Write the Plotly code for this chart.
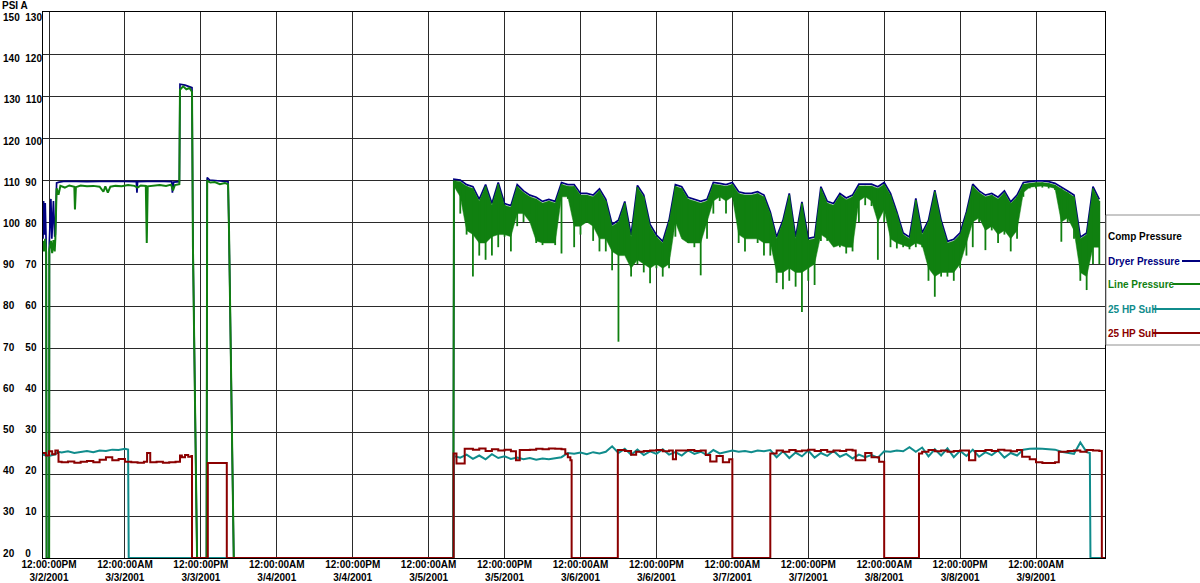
import pandas as pd
import plotly.graph_objects as go

START = pd.Timestamp("2001-03-02 12:00:00")   # hours below are counted from here

# ---------------- axis labels ----------------
tick_hours = [0, 12, 24, 36, 48, 60, 72, 84, 96, 108, 120, 132, 144, 156]
tick_text = ["12:00:00PM<br>3/2/2001", "12:00:00AM<br>3/3/2001", "12:00:00PM<br>3/3/2001",
             "12:00:00AM<br>3/4/2001", "12:00:00PM<br>3/4/2001", "12:00:00AM<br>3/5/2001",
             "12:00:00PM<br>3/5/2001", "12:00:00AM<br>3/6/2001", "12:00:00PM<br>3/6/2001",
             "12:00:00AM<br>3/7/2001", "12:00:00PM<br>3/7/2001", "12:00:00AM<br>3/8/2001",
             "12:00:00PM<br>3/8/2001", "12:00:00AM<br>3/9/2001"]
y_grid = [0, 10, 20, 30, 40, 50, 60, 70, 80, 90, 100, 110, 120, 130]
y_left_labels = ["20", "30", "40", "50", "60", "70", "80", "90", "100", "110", "120", "130", "140", "150"]
y_right_labels = ["0", "10", "20", "30", "40", "50", "60", "70", "80", "90", "100", "110", "120", "130"]

# ---------------- Line Pressure (green) ----------------
line_left_h = [-0.95, -0.8, -0.6, -0.45, -0.38, 0.02, 0.05, 0.3, 0.5, 0.7, 0.9, 1.0, 1.2, 1.5, 1.8,
               2.5, 3.2, 4.0, 4.1, 4.25, 5.0, 6.0, 7.0, 8.0, 8.6, 8.9, 9.3, 9.7, 10.5, 11.5, 12.5,
               13.5, 14.0, 14.5, 15.3, 15.45, 15.6, 16.5, 17.5, 18.5, 19.3, 19.6, 19.9, 20.6,
               20.7, 21.2, 21.7, 22.2, 22.6, 22.75, 23.4, 24.9, 25.0, 25.5, 26.2, 27.0, 27.8,
               28.3, 28.45, 29.2, 63.9]
line_left_v = [75.5, 73.0, 76.0, 72.8, 0, 0, 73.5, 75.5, 72.6, 75.7, 73.0, 76.0, 88.0, 86.5, 88.6,
               88.2, 88.7, 88.4, 83.0, 88.3, 88.7, 88.5, 88.6, 88.4, 87.2, 88.5, 87.0, 88.4, 88.6,
               88.5, 88.8, 88.6, 88.2, 88.7, 88.6, 75.0, 88.5, 88.7, 88.8, 88.6, 88.9, 87.5, 88.8,
               89.0, 111.5, 112.3, 111.6, 111.9, 111.0, 74.0, 0, 0, 89.8, 89.4, 89.5, 89.0, 89.3,
               89.0, 78.0, 0, 0]
env_start = 64   # hourly readings from 3/5 4AM onwards
# hourly maximum, lower edge of the dense band, and lowest spike
line_hi = [89.8, 89.6, 88.5, 88.0, 85.0, 88.5, 84.0, 89.0, 84.0, 83.5,
           88.5, 87.0, 86.0, 85.5, 84.5, 85.0, 84.5, 89.0, 88.5, 88.5,
           86.4, 86.4, 86.0, 87.5, 85.0, 79.0, 80.0, 84.5, 76.5, 88.3,
           86.0, 79.0, 76.5, 75.0, 80.0, 88.5, 88.0, 85.5, 85.0, 84.5,
           85.0, 89.0, 88.8, 88.5, 89.0, 86.8, 86.4, 86.4, 86.8, 86.0,
           82.0, 76.0, 80.0, 86.4, 76.0, 84.4, 75.7, 76.0, 88.0, 84.5,
           84.0, 86.4, 85.3, 86.0, 88.6, 88.6, 88.6, 88.0, 89.0, 86.4,
           82.0, 77.0, 76.0, 85.2, 77.0, 80.0, 87.2, 80.0, 75.0, 75.5,
           77.0, 82.0, 88.6, 87.0, 86.0, 86.4, 85.5, 87.0, 84.4, 86.0,
           89.0, 89.2, 89.4, 89.4, 89.2, 88.8, 88.0, 87.0, 86.0, 76.0,
           77.0, 88.0, 85.0]
line_body = [88.5, 86.0, 78.0, 77.0, 75.0, 75.0, 76.5, 77.0, 77.0, 76.5,
             82.0, 82.0, 80.0, 75.5, 75.0, 75.0, 75.0, 86.0, 86.0, 79.0,
             79.0, 80.0, 79.0, 76.0, 76.0, 73.0, 72.0, 72.0, 69.0, 71.0,
             70.0, 69.0, 70.0, 69.0, 70.0, 80.0, 76.0, 75.0, 75.0, 75.0,
             80.0, 85.0, 86.0, 85.0, 86.0, 77.0, 76.0, 76.0, 76.0, 75.0,
             75.0, 68.0, 68.0, 69.0, 68.0, 68.0, 69.0, 70.0, 77.0, 76.0,
             74.0, 74.5, 74.0, 74.0, 85.0, 86.0, 85.0, 80.0, 83.0, 76.0,
             75.0, 74.5, 74.0, 75.0, 74.5, 69.0, 67.0, 68.0, 68.0, 68.0,
             70.0, 75.0, 80.0, 81.0, 78.0, 79.0, 77.0, 78.0, 76.0, 78.0,
             87.0, 88.3, 88.5, 88.6, 88.4, 88.0, 80.0, 81.0, 78.0, 68.0,
             67.0, 74.0, 74.0]
line_lo = [88.6, 82.0, 77.0, 67.0, 72.0, 71.0, 72.0, 74.0, 76.5, 73.0,
           79.0, 80.0, 82.0, 75.0, 74.5, 75.0, 74.5, 72.5, 85.5, 74.0,
           77.0, 80.0, 75.5, 73.0, 73.0, 68.5, 51.5, 73.0, 67.0, 70.0,
           68.0, 65.4, 69.0, 67.0, 69.0, 76.5, 76.5, 75.0, 74.0, 67.3,
           76.0, 82.0, 85.0, 82.0, 86.0, 75.0, 73.0, 76.5, 75.0, 72.0,
           72.0, 65.5, 64.0, 66.0, 64.6, 58.6, 66.0, 65.0, 75.5, 75.5,
           75.0, 74.0, 72.5, 73.0, 80.0, 84.0, 83.8, 71.0, 80.0, 74.0,
           73.7, 74.0, 73.5, 74.0, 74.0, 66.0, 62.2, 67.0, 67.0, 66.0,
           69.0, 72.0, 74.0, 80.0, 73.3, 78.0, 75.0, 77.0, 73.0, 76.0,
           86.0, 88.0, 88.0, 88.2, 88.0, 87.6, 75.3, 80.0, 76.0, 66.0,
           63.8, 70.0, 70.0]

# ---------------- Dryer Pressure (navy) ----------------
dryer_left_h = [-0.95, -0.85, -0.75, -0.6, -0.45, -0.38, 0.02, 0.05, 0.3, 0.45, 0.7, 0.9, 1.0,
                1.2, 1.6, 2.5, 6.0, 10.0, 13.8, 13.9, 14.0, 17.0, 19.4, 19.5, 19.7, 20.6,
                20.7, 21.5, 22.6, 22.75, 23.4, 24.9, 25.0, 25.4, 26.5, 28.3, 28.45, 29.2, 63.9]
dryer_left_v = [76.0, 85.0, 77.0, 84.5, 75.0, 0, 0, 75.0, 85.5, 76.0, 85.0, 76.5, 77.0,
                89.3, 89.5, 89.7, 89.6, 89.7, 89.6, 87.0, 89.6, 89.7, 89.6, 87.0, 89.5, 89.6,
                112.8, 112.6, 112.0, 75.0, 0, 0, 90.6, 90.0, 89.9, 89.6, 78.0, 0, 0]
dryer_hi = [90.2, 90.0, 88.9, 88.4, 85.4, 88.9, 84.4, 89.4, 84.4, 83.9,
            88.9, 87.4, 86.4, 85.9, 84.9, 85.4, 84.9, 89.4, 88.9, 88.9,
            86.8, 86.8, 86.4, 87.9, 85.4, 79.4, 80.4, 84.9, 76.9, 88.7,
            86.4, 79.4, 76.9, 75.4, 80.4, 88.9, 88.4, 85.9, 85.4, 84.9,
            85.4, 89.4, 89.2, 88.9, 89.4, 87.2, 86.8, 86.8, 87.2, 86.4,
            82.4, 76.4, 80.4, 86.8, 76.4, 84.8, 76.1, 76.4, 88.4, 84.9,
            84.4, 86.8, 85.7, 86.4, 89.0, 89.0, 89.0, 88.4, 89.4, 86.8,
            82.4, 77.4, 76.4, 85.6, 77.4, 80.4, 87.6, 80.4, 75.4, 75.9,
            77.4, 82.4, 89.0, 87.4, 86.4, 86.8, 85.9, 87.4, 84.8, 86.4,
            89.4, 89.6, 89.8, 89.8, 89.6, 89.2, 88.4, 87.4, 86.4, 76.4,
            77.4, 88.4, 85.4]

# ---------------- 25 HP Sull (teal) ----------------
sull1_left_h = [-0.95, 0, 1, 1.5, 2, 3, 4, 5, 6, 7, 8, 9, 10, 11, 12, 12.5, 12.6, 63.9, 63.95]
sull1_left_v = [24.6, 24.3, 24.7, 25.3, 25.1, 25.4, 25.0, 25.3, 25.5, 25.2, 25.6, 25.5, 25.8, 25.7,
                26.0, 25.8, 0, 0, 24.3]
sull1_hourly = [24.3, 23.9, 24.6, 23.6, 24.4, 23.5, 24.7, 23.8, 24.2, 23.6,
                23.9, 23.5, 23.8, 23.4, 23.7, 23.5, 23.8, 24.0, 25.0, 24.8,
                25.1, 24.7, 25.2, 24.9, 25.3, 26.6, 25.0, 26.0, 24.6, 25.8,
                24.5, 25.4, 24.8, 25.9, 24.6, 25.2, 24.4, 25.6, 24.8, 25.3,
                24.5, 25.7, 24.9, 25.2, 25.6, 25.3, 25.5, 25.2, 25.6, 25.4,
                25.7, 24.0, 25.4, 23.8, 25.1, 24.2, 25.6, 23.9, 25.0, 24.3,
                25.5, 24.1, 24.8, 23.7, 24.6, 24.0, 24.5, 23.9, 25.4, 25.3,
                25.6, 25.4, 26.4, 25.3, 26.3, 24.2, 25.9, 24.4, 26.1, 24.0,
                25.5, 24.3, 25.8, 24.1, 25.2, 24.5, 25.6, 23.9, 25.0, 24.4,
                25.8, 26.0, 26.1, 26.0, 25.9, 25.8, 25.3, 25.0, 24.8, 27.5,
                25.2]
sull1_end_h = [164.5, 164.6, 166.9]
sull1_end_v = [25.0, 0, 0]

# ---------------- 25 HP Sull (dark red) ----------------
sull2_h = [-0.95, -0.5, 0, 0.5, 1.0, 1.4, 1.5, 2, 3, 4, 5, 6, 7, 8, 9, 10, 11, 12, 13, 14, 15, 15.5,
           16, 17, 18, 19, 20, 20.7, 21, 21.5, 22, 22.5, 22.6, 25.1, 28.1, 63.95, 64.4, 65.7, 67,
           68, 69, 70, 71, 72, 73, 73.8, 74.4, 76, 77, 78, 79, 80, 81, 81.6, 82.0, 82.4, 82.6,
           89.9, 91, 92, 92.8, 94, 95, 96, 97, 98, 98.6, 99.1, 100, 101, 102, 103, 103.8, 104.5,
           105.5, 106.5, 107.5, 108.0, 114.0, 115, 116, 117, 118, 119, 120, 121, 122, 123, 124,
           125, 126, 127, 127.5, 129, 130, 131.2, 132.0, 137.5, 138, 139, 140, 141, 142, 143,
           144, 145.4, 146.4, 147, 148, 149, 150, 151, 152, 153, 153.8, 155, 156, 157, 158, 159,
           159.6, 161, 162, 163, 164, 165, 166, 166.4, 166.9]
sull2_v = [25.0, 24.4, 25.4, 24.7, 25.6, 25.0, 22.9, 22.8, 23.0, 22.7, 22.9, 23.1, 22.8, 23.4,
           24.0, 23.3, 23.6, 22.9, 22.8, 22.7, 22.9, 25.0, 22.8, 22.9, 22.7, 22.8, 22.9, 24.4,
           24.0, 24.5, 24.1, 24.3, 0, 22.6, 0, 24.9, 22.5, 26.0, 25.8, 26.1, 25.5, 25.9, 25.6,
           25.8, 25.4, 23.3, 25.7, 25.8, 26.0, 25.9, 26.1, 26.0, 25.9, 24.8, 24.0, 23.3, 0,
           25.7, 25.5, 24.6, 25.3, 25.5, 25.6, 25.7, 25.4, 25.6, 23.5, 25.6, 25.6, 25.7, 25.5,
           25.6, 24.5, 23.0, 24.3, 22.8, 23.5, 0, 24.9, 25.6, 25.3, 25.7, 25.4, 25.6, 25.8,
           25.5, 25.7, 25.3, 25.6, 25.5, 25.8, 25.6, 23.3, 25.0, 24.0, 22.9, 0, 24.9, 25.3,
           25.7, 25.4, 25.6, 25.3, 25.5, 25.6, 23.3, 25.5, 25.5, 25.7, 25.5, 25.8, 25.6, 25.4,
           25.7, 24.1, 23.5, 22.8, 22.6, 22.6, 22.8, 25.3, 25.5, 25.6, 25.3, 25.7, 25.6, 25.5,
           0, 0]

# ---------------- build series ----------------
def to_time(hours):
    return [None if h is None else START + pd.Timedelta(hours=h) for h in hours]

env_hours = [env_start + i for i in range(len(line_hi))]
# continuous part up to the restart, joined to the first hourly reading
line_h = line_left_h + [env_hours[0]]
line_v = line_left_v + [line_hi[0]]
# hourly vertical spikes (max to min) over the dense band
spike_h, spike_v = [], []
for h, hi, lo in zip(env_hours, line_hi, line_lo):
    spike_h += [h, h, None]
    spike_v += [hi, lo, None]
band_h = env_hours + env_hours[::-1]
band_v = line_hi + line_body[::-1]

dryer_h = dryer_left_h + env_hours
dryer_v = dryer_left_v + dryer_hi

sull1_h = sull1_left_h + [env_start + i for i in range(len(sull1_hourly))] + sull1_end_h
sull1_v = sull1_left_v + sull1_hourly + sull1_end_v

NAVY, GREEN, TEAL, DRED = "#00007f", "#108010", "#108c8c", "#8b0000"
FONT = "Liberation Sans, Arial, sans-serif"

fig = go.Figure()
fig.add_trace(go.Scatter(x=to_time(dryer_h), y=dryer_v, mode="lines",
                         line=dict(color=NAVY, width=1.7), name="Dryer Pressure"))
fig.add_trace(go.Scatter(x=to_time(band_h), y=band_v, mode="lines", fill="toself",
                         fillcolor=GREEN, line=dict(color=GREEN, width=0.5),
                         name="Line Pressure band", hoverinfo="skip"))
fig.add_trace(go.Scatter(x=to_time(line_h), y=line_v, mode="lines",
                         line=dict(color=GREEN, width=2), name="Line Pressure"))
fig.add_trace(go.Scatter(x=to_time(spike_h), y=spike_v, mode="lines", connectgaps=False,
                         line=dict(color=GREEN, width=1.8), name="Line Pressure spikes"))
fig.add_trace(go.Scatter(x=to_time(sull1_h), y=sull1_v, mode="lines",
                         line=dict(color=TEAL, width=2), name="25 HP Sull"))
fig.add_trace(go.Scatter(x=to_time(sull2_h), y=sull2_v, mode="lines",
                         line=dict(color=DRED, width=2, shape="hv"), name="25 HP Sull"))
fig.add_trace(go.Scatter(x=[], y=[], yaxis="y2", showlegend=False))

NB = "\u00a0"
def col(s):
    return s + NB * 2 * (3 - len(s))
y_tick_text = [col(a) + NB * 2 + col(b) for a, b in zip(y_left_labels, y_right_labels)]

L, R, T, B = 43, 95, 12, 25
W, H = 1200, 583
PW, PH = W - L - R, H - T - B
def px(x):
    return (x - L) / PW
def py(y):
    return (H - B - y) / PH

tickfont = dict(family=FONT, size=10, color="black", weight="bold")
GRID = "#2a2a2a"

fig.update_layout(
    width=W, height=H, margin=dict(l=L, r=R, t=T, b=B, pad=0, autoexpand=False),
    plot_bgcolor="white", paper_bgcolor="white", showlegend=False,
    xaxis=dict(type="date", range=to_time([-0.95, 166.9]), tickmode="array",
               tickvals=to_time(tick_hours), ticktext=tick_text, tickfont=tickfont,
               showgrid=True, gridcolor=GRID, gridwidth=1, zeroline=False, automargin=False,
               showline=True, linecolor="black", linewidth=1, mirror=True, ticks="",
               ticklabelstandoff=-3),
    yaxis=dict(range=[0, 130], tickmode="array", tickvals=y_grid, showticklabels=False,
               showgrid=True, gridcolor=GRID, gridwidth=1, zeroline=False, automargin=False,
               showline=True, linecolor="black", linewidth=1, mirror=True, ticks=""),
    yaxis2=dict(overlaying="y", side="left", anchor="x", range=[-1.214, 131.33],
                tickmode="array", tickvals=y_grid, ticktext=y_tick_text, tickfont=tickfont,
                showgrid=False, zeroline=False, showline=False, ticks="", automargin=False),
)

fig.add_annotation(text="PSI A", xref="paper", yref="paper", x=px(0), y=py(5.5),
                   xanchor="left", yanchor="middle", showarrow=False, font=tickfont)

# legend box (text followed by line sample, as in the original)
fig.add_shape(type="rect", xref="paper", yref="paper", x0=px(1106), x1=px(1215),
              y0=py(345), y1=py(215), line=dict(color="#909090", width=1), fillcolor="white",
              layer="above")
legend_items = [("Comp Pressure", "black", None), ("Dryer Pressure", NAVY, 1182),
                ("Line Pressure", GREEN, 1173), ("25 HP Sull", TEAL, 1153),
                ("25 HP Sull", DRED, 1153)]
legend_y = [236, 261, 284, 309, 333]
for (name, color, lx), yy in zip(legend_items, legend_y):
    fig.add_annotation(text=name, xref="paper", yref="paper", x=px(1106), y=py(yy),
                       xanchor="left", yanchor="middle", showarrow=False,
                       font=dict(family=FONT, size=10, color=color, weight="bold"))
    if lx is not None:
        fig.add_shape(type="line", xref="paper", yref="paper", x0=px(lx), x1=px(1200),
                      y0=py(yy), y1=py(yy), line=dict(color=color, width=2), layer="above")

fig.write_html("out.html")
